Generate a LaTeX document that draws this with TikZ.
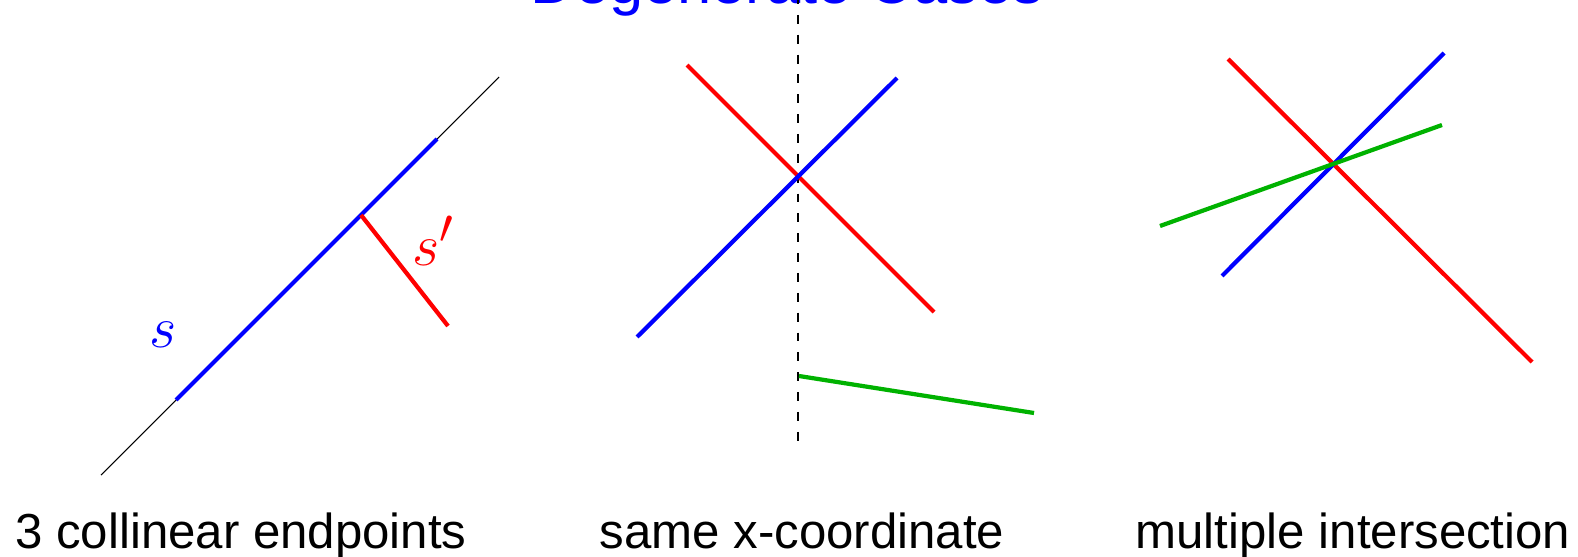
\documentclass[tikz,border=0pt]{standalone}
\usepackage{fontspec}
\setmainfont{Liberation Sans}
\definecolor{segblue}{RGB}{0,0,255}
\definecolor{segred}{RGB}{255,0,0}
\definecolor{seggreen}{RGB}{0,178,0}
\tikzset{
    seg/.style={line width=2.4pt},
    caption/.style={font=\fontsize{28}{30}\selectfont, anchor=base},
    seglabel/.style={font=\Huge, scale=1.35},
    sweep/.style={line width=0.8pt, dash pattern=on 5.1pt off 6.2pt}
}
\begin{document}
\begin{tikzpicture}[x=0.02cm, y=-0.02cm]
    \useasboundingbox (0,0) rectangle (1578,557);
    \clip (0,0) rectangle (1578,557);
    \node[text=segblue, font=\fontsize{35}{40}\selectfont, anchor=base] (title) at (787,4) {Degenerate Cases};
    % 3 collinear endpoints
    \coordinate (l1) at (101,475);
    \coordinate (l2) at (499,77);
    \coordinate (s1) at (176,400);
    \coordinate (s2) at (437,139);
    \coordinate (t1) at (361,215);
    \coordinate (t2) at (448,326);
    \draw[line width=0.6pt] (l1) -- (l2);
    \draw[seg, segblue] (s1) -- (s2);
    \draw[seg, segred] (t1) -- (t2);
    \node[seglabel, text=segblue] (lbls) at (163,335) {$s$};
    \node[seglabel, text=segred] (lblt) at (433,241) {$s'$};
    \node[caption] (cap1) at (241,548) {3 collinear endpoints};
    % same x-coordinate
    \coordinate (dtop) at (798,-5);
    \coordinate (dbot) at (798,442);
    \coordinate (r1) at (687,65);
    \coordinate (r2) at (934,312);
    \coordinate (b1) at (637,337);
    \coordinate (b2) at (897,78);
    \coordinate (g1) at (799,376);
    \coordinate (g2) at (1034,413);
    \draw[sweep] (dtop) -- (dbot);
    \draw[seg, segred] (r1) -- (r2);
    \draw[seg, segblue] (b1) -- (b2);
    \draw[seg, seggreen] (g1) -- (g2);
    \node[caption] (cap2) at (802,548) {same x-coordinate};
    % multiple intersection
    \coordinate (m1) at (1228,59);
    \coordinate (m2) at (1532,362);
    \coordinate (n1) at (1222,276);
    \coordinate (n2) at (1444,53);
    \coordinate (k1) at (1160,226);
    \coordinate (k2) at (1442,125);
    \draw[seg, segred] (m1) -- (m2);
    \draw[seg, segblue] (n1) -- (n2);
    \draw[seg, seggreen] (k1) -- (k2);
    \node[caption] (cap3) at (1353,548) {multiple intersection};
\end{tikzpicture}
\end{document}
